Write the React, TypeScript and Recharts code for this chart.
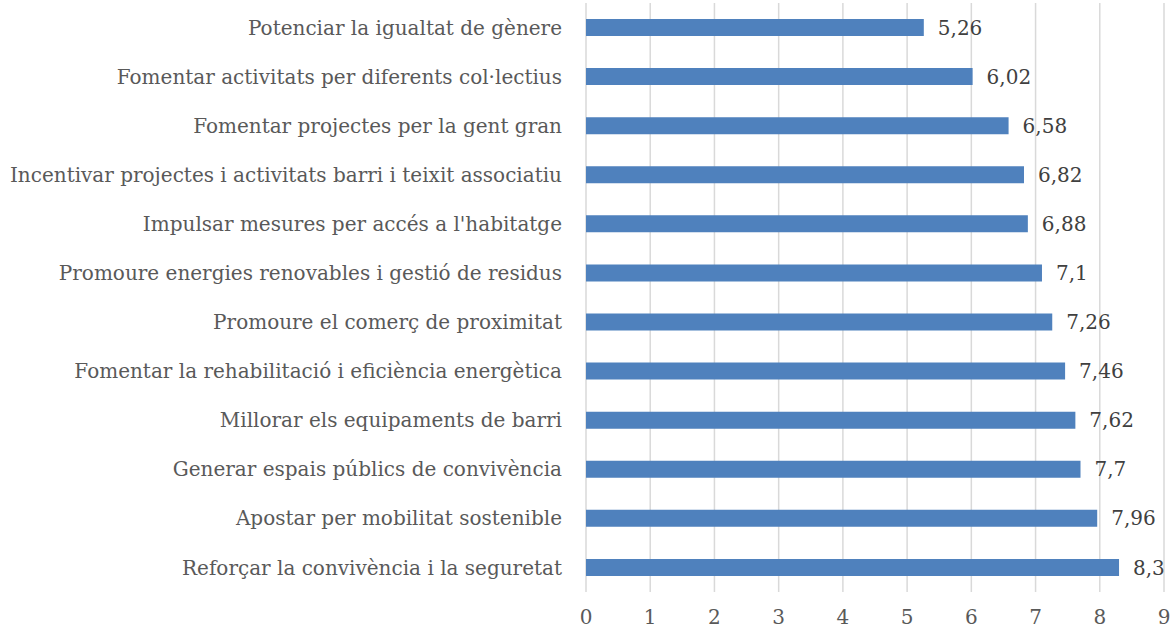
import { BarChart, Bar, XAxis, YAxis, CartesianGrid, LabelList } from "recharts";

document.body.style.margin = "0";

const categories = [
  "Potenciar la igualtat de gènere",
  "Fomentar activitats per diferents col·lectius",
  "Fomentar projectes per la gent gran",
  "Incentivar projectes i activitats barri i teixit associatiu",
  "Impulsar mesures per accés a l'habitatge",
  "Promoure energies renovables i gestió de residus",
  "Promoure el comerç de proximitat",
  "Fomentar la rehabilitació i eficiència energètica",
  "Millorar els equipaments de barri ",
  "Generar espais públics de convivència",
  "Apostar per mobilitat sostenible",
  "Reforçar la convivència i la seguretat",
];

const scores = [5.26, 6.02, 6.58, 6.82, 6.88, 7.1, 7.26, 7.46, 7.62, 7.7, 7.96, 8.3];

const xTicks = [0, 1, 2, 3, 4, 5, 6, 7, 8, 9];

const data = categories.map((name, i) => ({ name, value: scores[i] }));

const FONT = "'DejaVu Serif', 'Liberation Serif', serif";

export default function App() {
  return (
    <div style={{ width: 1170, height: 630, background: "#fff" }}>
      <BarChart
        width={1170}
        height={630}
        data={data}
        layout="vertical"
        margin={{ top: 3, right: 6, bottom: 0, left: 0 }}
      >
        <CartesianGrid horizontal={false} stroke="#d9d9d9" strokeWidth={1.5} />
        <XAxis
          type="number"
          domain={[0, 9]}
          ticks={xTicks}
          axisLine={false}
          tickLine={false}
          tickSize={0}
          tickMargin={18}
          height={38}
          tick={{ fill: "#595959", fontSize: 20, fontFamily: FONT }}
        />
        <YAxis
          type="category"
          dataKey="name"
          width={586}
          axisLine={false}
          tickLine={false}
          tickSize={0}
          tickMargin={24}
          interval={0}
          tick={{ fill: "#595959", fontSize: 20, fontFamily: FONT }}
        />
        <Bar dataKey="value" fill="#4f81bd" barSize={17} isAnimationActive={false}>
          <LabelList
            dataKey="value"
            position="right"
            offset={14}
            fill="#404040"
            fontSize={20}
            fontFamily={FONT}
            formatter={(v: number) => String(v).replace(".", ",")}
          />
        </Bar>
      </BarChart>
    </div>
  );
}
